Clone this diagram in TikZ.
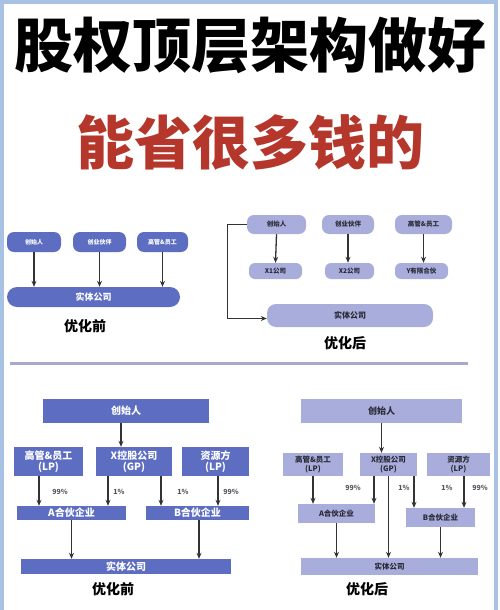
\documentclass[tikz,border=0pt]{standalone}
\usepackage{fontspec}
\setmainfont{Noto Sans CJK SC}
\usetikzlibrary{arrows.meta}
\definecolor{dblue}{HTML}{5C6DC2}
\definecolor{lav}{HTML}{A9ADDC}
\definecolor{framec}{HTML}{A8C2E4}
\definecolor{titlered}{HTML}{B5372B}
\definecolor{ink}{HTML}{2A2A36}
\definecolor{arrc}{HTML}{333333}
\definecolor{sepc}{HTML}{A6AAD0}
\tikzset{
  darkbox/.style={fill=dblue, draw=none, text=white, inner sep=0pt, align=center},
  lightbox/.style={fill=lav, draw=none, text=ink, inner sep=0pt, align=center},
  arr/.style={draw=arrc, line width=1.3pt, -{Stealth[length=6pt,width=5pt]}},
  pct/.style={font=\fontsize{7}{8}\selectfont\bfseries, text=ink!80},
  captext/.style={font=\fontsize{14}{16}\selectfont\bfseries, text=black},
}
\begin{document}
\begin{tikzpicture}[x=1pt,y=-1pt]
\useasboundingbox (0,0) rectangle (500,610);
\fill[white] (0,0) rectangle (500,610);
\draw[framec, line width=4pt] (2,2) rectangle (496,614);

% titles
\node[font=\fontsize{59}{62}\selectfont\bfseries] (t1) at (250,45) {股权顶层架构做好};
\node[font=\fontsize{58}{62}\selectfont\bfseries, text=titlered] (t2) at (250,142) {能省很多钱的};

% top-left: before
\begin{scope}[every node/.append style={font=\fontsize{6}{7}\selectfont\bfseries}]
\node[darkbox, rounded corners=7pt, minimum width=54pt, minimum height=20pt] (n1) at (34,242) {创始人};
\node[darkbox, rounded corners=7pt, minimum width=53pt, minimum height=20pt] (n2) at (99.5,242) {创业伙伴};
\node[darkbox, rounded corners=7pt, minimum width=51pt, minimum height=20pt] (n3) at (162.5,242) {高管\&员工};
\end{scope}
\node[darkbox, rounded corners=10pt, minimum width=173pt, minimum height=20pt, font=\fontsize{9}{10}\selectfont\bfseries] (E1) at (93.5,297) {实体公司};
\draw[arr] (n1.south) -- (n1.south |- E1.north);
\draw[arr] (n2.south) -- (n2.south |- E1.north);
\draw[arr] (n3.south) -- (n3.south |- E1.north);
\node[captext] (c1) at (85,326) {优化前};

% top-right: after
\begin{scope}[every node/.append style={font=\fontsize{6.5}{7}\selectfont\bfseries}]
\node[lightbox, rounded corners=7pt, minimum width=59pt, minimum height=19pt] (m1) at (276.5,224.5) {创始人};
\node[lightbox, rounded corners=7pt, minimum width=52pt, minimum height=19pt] (m2) at (348,224.5) {创业伙伴};
\node[lightbox, rounded corners=7pt, minimum width=57pt, minimum height=19pt] (m3) at (423.5,224.5) {高管\&员工};
\node[lightbox, rounded corners=6pt, minimum width=53pt, minimum height=16pt] (p1) at (275.5,271) {X1公司};
\node[lightbox, rounded corners=6pt, minimum width=49pt, minimum height=16pt] (p2) at (349.5,271) {X2公司};
\node[lightbox, rounded corners=6pt, minimum width=53pt, minimum height=16pt] (p3) at (421.5,271) {Y有限合伙};
\end{scope}
\node[lightbox, rounded corners=9pt, minimum width=166pt, minimum height=23pt, font=\fontsize{8}{9}\selectfont\bfseries] (E2) at (350,315.5) {实体公司};
\draw[arr] (m1.south) -- (p1.north);
\draw[arr] (m2.south) -- (m2.south |- p2.north);
\draw[arr] (m3.south) -- (m3.south |- p3.north);
\draw[arr] (m1.west) -- ++(-19,0) |- ([yshift=-3pt]E2.west);
\node[captext] (c2) at (345,343) {优化后};

% separator
\draw[sepc, line width=3pt] (10,363) -- (468,363);

% bottom-left: before
\node[darkbox, minimum width=166pt, minimum height=24pt, font=\fontsize{10}{11}\selectfont\bfseries] (F3) at (126,411) {创始人};
\begin{scope}[every node/.append style={font=\fontsize{10}{11.5}\selectfont\bfseries}]
\node[darkbox, minimum width=69pt, minimum height=29pt] (L1) at (48.5,461.5) {高管\&员工\\(LP)};
\node[darkbox, minimum width=76pt, minimum height=29pt] (G1) at (134,461.5) {X控股公司\\(GP)};
\node[darkbox, minimum width=67pt, minimum height=29pt] (R1) at (215.5,461.5) {资源方\\(LP)};
\node[darkbox, minimum width=109pt, minimum height=14pt] (A1) at (71.5,513) {A合伙企业};
\node[darkbox, minimum width=103pt, minimum height=14pt] (B1) at (197.5,513) {B合伙企业};
\node[darkbox, minimum width=210pt, minimum height=15pt] (E3) at (126,566.5) {实体公司};
\end{scope}
\draw[arr] ([xshift=-5pt]F3.south) -- ([xshift=-5pt]F3.south |- G1.north);
\draw[arr] ([xshift=-9.5pt]L1.south) -- ([xshift=-9.5pt]L1.south |- A1.north);
\draw[arr] ([xshift=-26pt]G1.south) -- ([xshift=-26pt]G1.south |- A1.north);
\draw[arr] ([xshift=27pt]G1.south) -- ([xshift=27pt]G1.south |- B1.north);
\draw[arr] ([xshift=2.5pt]R1.south) -- ([xshift=2.5pt]R1.south |- B1.north);
\draw[arr] (A1.south) -- (A1.south |- E3.north);
\draw[arr] ([xshift=1.5pt]B1.south) -- ([xshift=1.5pt]B1.south |- E3.north);
\node[pct] (q1) at (60,492) {99\%};
\node[pct] (q2) at (119,492) {1\%};
\node[pct] (q3) at (183,492) {1\%};
\node[pct] (q4) at (231,492) {99\%};
\node[captext] (c3) at (113,589) {优化前};

% bottom-right: after
\node[lightbox, minimum width=161pt, minimum height=24pt, font=\fontsize{9}{10}\selectfont\bfseries] (F4) at (381.5,411) {创始人};
\begin{scope}[every node/.append style={font=\fontsize{7.5}{9}\selectfont\bfseries}]
\node[lightbox, minimum width=60pt, minimum height=23pt] (L2) at (313,464.5) {高管\&员工\\(LP)};
\node[lightbox, minimum width=57pt, minimum height=23pt] (G2) at (388.5,464.5) {X控股公司\\(GP)};
\node[lightbox, minimum width=63pt, minimum height=23pt] (R2) at (458.5,464.5) {资源方\\(LP)};
\node[lightbox, minimum width=77pt, minimum height=19pt] (A2) at (336.5,513.5) {A合伙企业};
\node[lightbox, minimum width=69pt, minimum height=19pt] (B2) at (440.5,517.5) {B合伙企业};
\node[lightbox, minimum width=177pt, minimum height=17pt] (E4) at (389.5,566.5) {实体公司};
\end{scope}
\draw[arr] (F4.south) -- (F4.south |- G2.north);
\draw[arr] (L2.south) -- (L2.south |- A2.north);
\draw[arr] ([xshift=-14.5pt]G2.south) -- ([xshift=-14.5pt]G2.south |- A2.north);
\draw[arr] (G2.south) -- (G2.south |- E4.north);
\draw[arr] ([xshift=25.5pt]G2.south) -- ([xshift=25.5pt]G2.south |- B2.north);
\draw[arr] ([xshift=5.5pt]R2.south) -- ([xshift=5.5pt]R2.south |- B2.north);
\draw[arr] (A2.south) -- (A2.south |- E4.north);
\draw[arr] (B2.south) -- (B2.south |- E4.north);
\node[pct] (r1) at (353,488) {99\%};
\node[pct] (r2) at (404,488) {1\%};
\node[pct] (r3) at (447,488) {1\%};
\node[pct] (r4) at (480,488) {99\%};
\node[captext] (c4) at (367,589) {优化后};
\end{tikzpicture}
\end{document}
